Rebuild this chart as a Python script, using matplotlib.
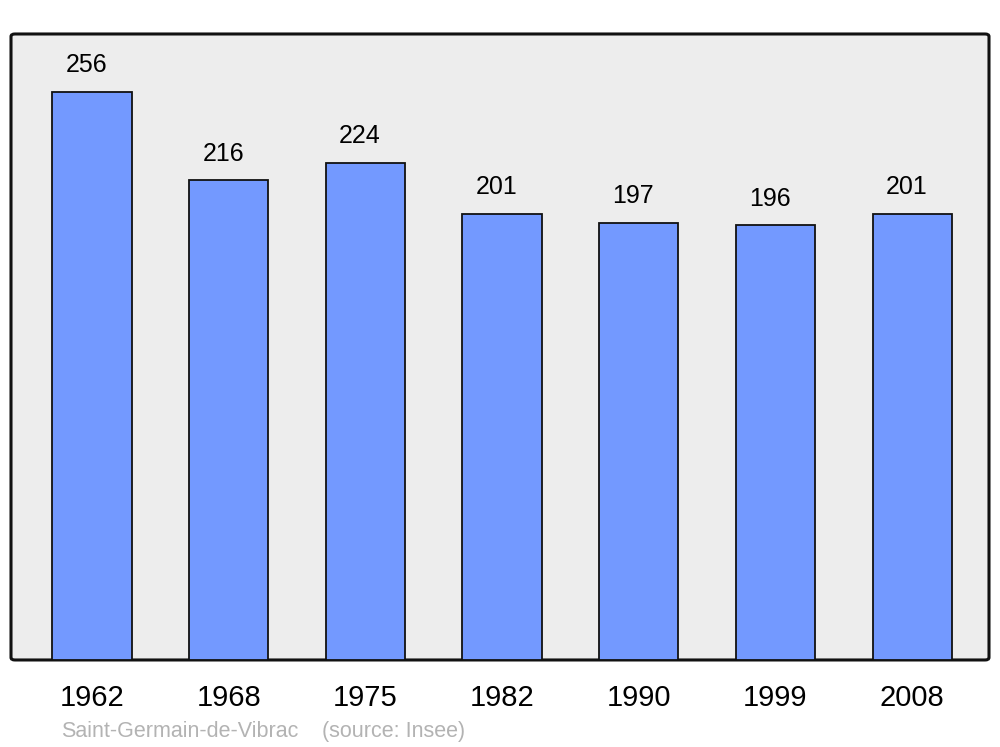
import matplotlib.pyplot as plt
from matplotlib.patches import FancyBboxPatch

years = ['1962', '1968', '1975', '1982', '1990', '1999', '2008']
population = [256, 216, 224, 201, 197, 196, 201]
commune = 'Saint-Germain-de-Vibrac'
source = '(source: Insee)'

plt.rcParams['font.family'] = ['Liberation Sans', 'DejaVu Sans']

fig = plt.figure(figsize=(10, 7.47), dpi=100)
ax = fig.add_axes([0.011, 0.1165, 0.978, 0.838])
ax.set_facecolor('none')

# rounded grey frame behind the bars
frame = FancyBboxPatch((0, 0), 1, 1, boxstyle='round,pad=0,rounding_size=0.004',
                       transform=ax.transAxes, facecolor='#ededed',
                       edgecolor='#111111', linewidth=2.2, zorder=0, clip_on=False)
ax.add_patch(frame)

x = list(range(len(years)))
bars = ax.bar(x, population, width=0.58, color='#7399ff', edgecolor='#111111',
              linewidth=1.3, zorder=2)

for xi, val in zip(x, population):
    ax.annotate(str(val), (xi, val), xytext=(-4.0, 19), textcoords='offset points',
                ha='center', va='center', fontsize=18, color='black')

ax.set_xlim(-0.593, 6.562)
ax.set_ylim(0, 282)
ax.set_xticks(x)
ax.set_xticklabels(years, fontsize=21)
ax.tick_params(axis='x', length=0, pad=17)
ax.set_yticks([])
for s in ax.spines.values():
    s.set_visible(False)

fig.text(0.061, 0.013, commune, fontsize=15.5, color='#b3b3b3', ha='left', va='baseline')
fig.text(0.322, 0.013, source, fontsize=15.5, color='#b3b3b3', ha='left', va='baseline')

fig.savefig('out.png', dpi=100)
